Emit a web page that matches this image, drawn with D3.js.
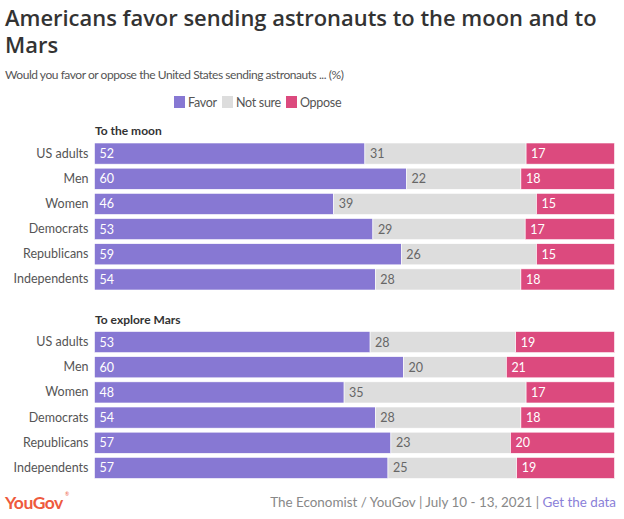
<!DOCTYPE html>
<html><head><meta charset="utf-8">
<script src="https://cdn.jsdelivr.net/npm/d3@7"></script>
<style>body{margin:0;background:#fff}svg{display:block}</style>
</head><body>
<svg id="chart" width="624" height="519"></svg>
<script>
const categories = ["US adults","Men","Women","Democrats","Republicans","Independents"];
const seriesNames = ["Favor","Not sure","Oppose"];
const colors = ["#8778d3","#dddddd","#dc4a7e"];
const moonFavor = [52,60,46,53,59,54];
const moonNotSure = [31,22,39,29,26,28];
const moonOppose = [17,18,15,17,15,18];
const marsFavor = [53,60,48,54,57,57];
const marsNotSure = [28,20,35,28,23,25];
const marsOppose = [19,21,17,18,20,19];
const panels = [
  {title:"To the moon", data:[moonFavor,moonNotSure,moonOppose], top:143},
  {title:"To explore Mars", data:[marsFavor,marsNotSure,marsOppose], top:331.5}
];
const font = "Lato, 'Open Sans', sans-serif";
const svg = d3.select("#chart");

function fit(sel, target){
  const w = sel.node().getComputedTextLength();
  const fs = parseFloat(sel.attr("font-size"));
  sel.attr("font-size", fs*target/w);
  return sel;
}

const t1 = svg.append("text").attr("x",5).attr("y",26).attr("font-family","'Open Sans', sans-serif").attr("font-weight",600)
  .attr("font-size",22).attr("fill","#333").text("Americans favor sending astronauts to the moon and to");
fit(t1, 592);
svg.append("text").attr("x",5).attr("y",52.5).attr("font-family","'Open Sans', sans-serif").attr("font-weight",600)
  .attr("font-size",t1.attr("font-size")).attr("fill","#333").text("Mars");
svg.append("text").attr("x",5).attr("y",79).attr("font-family",font).attr("letter-spacing",-0.45)
  .attr("font-size",12).attr("fill","#555").text("Would you favor or oppose the United States sending astronauts ... (%)");

// legend
const legX = [174,222,286];
seriesNames.forEach((s,i)=>{
  svg.append("rect").attr("x",legX[i]).attr("y",96).attr("width",11).attr("height",12).attr("fill",colors[i]);
  svg.append("text").attr("x",legX[i]+14).attr("y",106.5).attr("font-family",font).attr("letter-spacing",-0.3)
    .attr("font-size",12.5).attr("fill","#555").text(s);
});

const x = d3.scaleLinear().domain([0,100]).range([94.5,614.5]);
panels.forEach(p=>{
  const y = d3.scaleBand().domain(categories).range([p.top, p.top+24.5*6]).paddingInner(0.16).paddingOuter(0);
  svg.append("text").attr("x",95).attr("y",p.top-8).attr("font-family",font).attr("font-weight",700)
    .attr("font-size",12).attr("fill","#333").text(p.title);
  const g = svg.append("g");
  g.append("g").attr("transform",`translate(${x(0)-4},0)`)
    .call(d3.axisLeft(y).tickSize(0).tickPadding(2))
    .call(a=>a.select(".domain").remove())
    .call(a=>a.selectAll("text").attr("font-family",font).attr("font-size",12.5).attr("fill","#555"));
  categories.forEach((c,ci)=>{
    const total = d3.sum(p.data, arr=>arr[ci]);
    let cum = 0;
    p.data.forEach((arr,si)=>{
      const v = arr[ci];
      const x0 = x(cum/total*100), x1 = x((cum+v)/total*100);
      g.append("rect").attr("x",x0).attr("y",y(c)).attr("width",x1-x0).attr("height",y.bandwidth())
        .attr("fill",colors[si]).attr("stroke","#fff").attr("stroke-width",0.6);
      g.append("text").attr("x",x0+5).attr("y",y(c)+y.bandwidth()/2+4.5)
        .attr("font-family",font).attr("font-size",12.5)
        .attr("fill", si===1 ? "#666" : "#fff").text(v);
      cum += v;
    });
  });
});

// footer
const logo = svg.append("text").attr("x",5).attr("y",509).attr("font-family",font).attr("font-weight",700)
  .attr("font-size",19).attr("fill","#ee5a3d").attr("letter-spacing",-0.5).text("YouGov");
fit(logo, 58);
svg.append("text").attr("x",65).attr("y",496).attr("font-family",font).attr("font-size",5).attr("fill","#ee5a3d").text("®");
const foot = svg.append("text").attr("x",616).attr("y",507).attr("text-anchor","end")
  .attr("font-family",font).attr("font-size",12).attr("fill","#888");
foot.append("tspan").text("The Economist / YouGov | July 10 - 13, 2021 | ");
foot.append("tspan").attr("fill","#8a80d8").text("Get the data");
fit(foot, 346);
</script>
</body></html>
